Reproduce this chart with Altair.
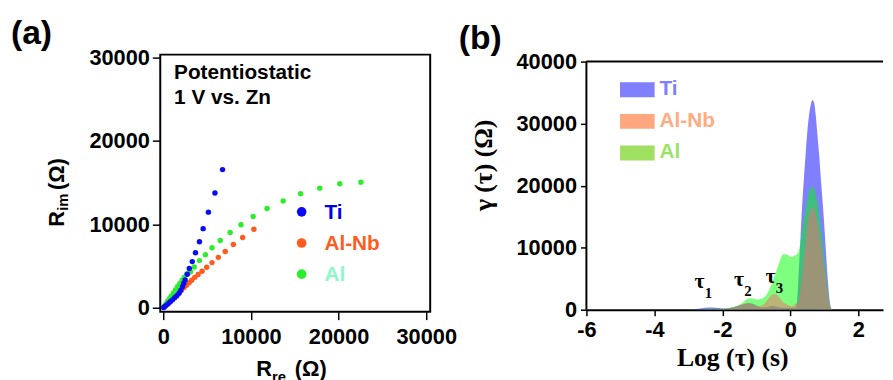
import altair as alt
import pandas as pd

# ---------------- Panel (a): Nyquist data ----------------
ti_re = [6764, 5900, 5150, 4550, 4130, 3680, 3310, 2970, 2740, 2500, 2350, 2200, 2000,
         1800, 1550, 1300, 1050, 800, 600, 400, 200, 50]
ti_im = [16570, 13760, 11470, 9490, 7910, 6600, 5540, 4710, 4030, 3350, 2950, 2550, 2100,
         1740, 1450, 1200, 950, 720, 530, 350, 170, 40]

alnb_re = [10340, 9060, 8000, 7070, 6280, 5560, 4960, 4430, 3980, 3600, 3250, 2950, 2650,
           2350, 2050, 1800, 1550, 1300, 1050, 850, 650, 450, 300, 150, 50]
alnb_im = [9410, 8420, 7590, 6760, 6050, 5420, 4860, 4390, 4000, 3650, 3300, 3000, 2700,
           2400, 2100, 1800, 1550, 1300, 1050, 850, 640, 450, 300, 150, 50]

al_re = [22550, 20140, 17850, 15670, 13680, 11840, 10260, 8870, 7630, 6500, 5560, 4810,
         4130, 3530, 3120, 2700, 2400, 2150, 1900, 1650, 1400, 1150, 900, 700, 500, 300, 150, 50]
al_im = [15070, 14870, 14350, 13680, 12810, 11900, 10950, 9960, 9020, 8070, 7200, 6370,
         5660, 4900, 4310, 4050, 3680, 3310, 2930, 2550, 2160, 1780, 1400, 1090, 780, 470, 230, 80]

series_names = ["Ti", "Al-Nb", "Al"]
a_ticks = [0, 10000, 20000, 30000]

# ---------------- Panel (b): DRT data ----------------
log_tau = [-6, -5, -4, -3.2, -3.0, -2.8, -2.6, -2.4, -2.2, -2.0, -1.8, -1.6, -1.5, -1.4, -1.3,
           -1.2, -1.1, -1.0, -0.9, -0.8, -0.7, -0.6, -0.5, -0.4, -0.3, -0.2, -0.1, 0.0, 0.05,
           0.1, 0.15, 0.2, 0.25, 0.3, 0.35, 0.4, 0.45, 0.5, 0.55, 0.6, 0.65, 0.7, 0.75, 0.8,
           0.85, 0.9, 0.95, 1.0, 1.05, 1.1, 1.15, 1.2, 1.25, 1.3, 2.0, 2.7]
g_ti = [0, 0, 0, 0, 30, 100, 250, 350, 300, 200, 250, 500, 680, 850, 1000,
        1050, 950, 700, 450, 350, 400, 550, 600, 500, 350, 300, 300, 350, 330,
        300, 300, 1500, 6400, 11700, 17000, 21200, 25000, 28700, 31300, 33000, 33800, 33300, 31200, 28000,
        24800, 21000, 17400, 13500, 9200, 5000, 1800, 200, 0, 0, 0, 0]
g_al = [0, 0, 0, 0, 0, 30, 80, 150, 150, 150, 300, 550, 800, 1150, 1600,
        1850, 1800, 1650, 1700, 1900, 2400, 3500, 4900, 6400, 8000, 9000, 8900, 8550, 8500,
        8650, 8800, 9000, 9500, 11000, 12800, 14600, 16300, 17800, 19000, 19700, 19800, 19400, 18600, 17200,
        15200, 13000, 10800, 8300, 5800, 3400, 1300, 200, 0, 0, 0, 0]
g_alnb = [0, 0, 0, 0, 0, 20, 50, 80, 80, 100, 250, 500, 700, 900, 1050,
          1050, 900, 700, 600, 800, 1400, 2100, 2550, 2450, 1800, 1150, 900, 650, 550,
          700, 1000, 1000, 1500, 3300, 5800, 8500, 11000, 13500, 15200, 16200, 16500, 16200, 15200, 13800,
          12200, 10500, 8800, 6900, 4800, 2700, 1000, 150, 0, 0, 0, 0]

tau_names = ["τ", "τ", "τ"]
tau_subs = ["1", "2", "3"]
tau_x = [-2.67, -1.51, -0.58]
tau_y = [3500, 3820, 4300]
b_yticks = list(range(0, 40001, 5000))
b_xticks = list(range(-6, 3))
B_XMIN, B_XMAX = -6, 2.727
B_YTOP = 40000

# ---------------- styling ----------------
SANS = "Liberation Sans"
SERIF = "Liberation Serif"
pt_colors = {"Ti": "#0a0af5", "Al-Nb": "#ff5b1f", "Al": "#2ced2c"}
leg_a_text = {"Ti": "#0000ee", "Al-Nb": "#ff5b1f", "Al": "#8cfac8"}
area_colors = {"Ti": "#0000ff", "Al-Nb": "#f86970", "Al": "#00ff00"}
swatch_colors = {"Ti": "#7f7fff", "Al-Nb": "#ffa880", "Al": "#a0e060"}
leg_b_text = {"Ti": "#8080ff", "Al-Nb": "#ffaa80", "Al": "#99e466"}

WA, HA = 273, 260
WB, HB = 300, 258       # panel b: 7 px head-room above the 40000 frame line
B_YDOM = [0, 40000 * HB / 251]
BT = 7                  # offset of the frame top inside panel b


def txt(s, x, y, size, color="black", font=SANS, align="left", angle=0, weight="bold"):
    kw = dict(font=font, fontSize=size, fontWeight=weight, color=color, align=align,
              baseline="alphabetic")
    if angle:
        kw["angle"] = angle
    return alt.Chart(pd.DataFrame({"t": [s]})).mark_text(**kw).encode(
        x=alt.value(x), y=alt.value(y), text="t:N")


# ---------------- build panel (a) ----------------
rows = []
for name, xs, ys in [("Al-Nb", alnb_re, alnb_im), ("Al", al_re, al_im), ("Ti", ti_re, ti_im)]:
    for xv, yv in zip(xs, ys):
        rows.append({"series": name, "re": xv, "im": yv})
df_a = pd.DataFrame(rows)

axis_a = dict(labelFont=SANS, labelFontSize=22, labelFontWeight="bold", labelColor="black",
              tickColor="black", tickWidth=1.5, tickSize=8, domain=False, grid=False,
              labelFlush=False, labelOverlap=False, format="d", title=None)

points = alt.Chart(df_a).mark_circle(size=30, opacity=1).encode(
    x=alt.X("re:Q", scale=alt.Scale(domain=[-340, 30450], nice=False, zero=False),
            axis=alt.Axis(values=a_ticks, labelPadding=7, **axis_a)),
    y=alt.Y("im:Q", scale=alt.Scale(domain=[-470, 30360], nice=False, zero=False),
            axis=alt.Axis(values=a_ticks, labelPadding=3, **axis_a)),
    color=alt.Color("series:N", scale=alt.Scale(domain=series_names,
                    range=[pt_colors[s] for s in series_names]), legend=None),
    order=alt.value(0),
)

layers_a = [points,
            txt("(a)", -151, -11, 34),
            txt("Potentiostatic", 14, 25, 21),
            txt("1 V vs. Zn", 14, 50, 21),
            # x title  R_re (Ω)
            txt("R", 97, 325, 22),
            txt("re", 113, 331, 15),
            txt("(Ω)", 136, 325, 22),
            # y title  R_im (Ω)
            txt("R", -97, 174, 22, angle=270),
            txt("im", -93, 158, 15, angle=270),
            txt("(Ω)", -97, 137, 22, angle=270)]

for i, name in enumerate(series_names):
    dot = alt.Chart(pd.DataFrame({"s": [name]})).mark_circle(
        size=95, opacity=1, color=pt_colors[name]).encode(
        x=alt.value(143), y=alt.value(159 + 31.5 * i))
    layers_a.append(dot)
    layers_a.append(txt(name, 166, 166 + 31.5 * i, 21, color=leg_a_text[name]))

panel_a = alt.layer(*layers_a).properties(
    width=WA, height=HA,
    view=alt.ViewBackground(stroke="black", strokeWidth=2, fill="white"))

# ---------------- build panel (b) ----------------
df_b = pd.DataFrame({"tau": log_tau, "Ti": g_ti, "Al-Nb": g_alnb, "Al": g_al})

xb = alt.X("tau:Q", scale=alt.Scale(domain=[B_XMIN, B_XMAX], nice=False, zero=False),
           axis=alt.Axis(values=b_xticks, title=None, labelFont=SANS, labelFontSize=22,
                         labelFontWeight="bold", labelColor="black", tickColor="black",
                         tickWidth=1.5, domainColor="black", domainWidth=2, grid=False,
                         labelFlush=False, labelOverlap=False, labelPadding=4,
                         labelExpr="datum.value % 2 == 0 ? '' + datum.value : ''",
                         tickSize={"condition": {"test": "datum.value % 2 == 0", "value": 6},
                                   "value": 3}))

yscale_b = alt.Scale(domain=B_YDOM, nice=False, zero=False)


def yb(field):
    return alt.Y(f"{field}:Q", stack=None, scale=yscale_b,
                 axis=alt.Axis(values=b_yticks, title=None, labelFont=SANS, labelFontSize=22,
                               labelFontWeight="bold", labelColor="black", tickColor="black",
                               tickWidth=1.5, domain=False, grid=False,
                               labelFlush=False, labelOverlap=False, labelPadding=4,
                               labelExpr="datum.value % 10000 == 0 ? '' + datum.value : ''",
                               tickSize={"condition": {"test": "datum.value % 10000 == 0",
                                                       "value": 6}, "value": 3}))


layers_b = []
for name in ["Ti", "Al", "Al-Nb"]:
    layers_b.append(alt.Chart(df_b).mark_area(
        interpolate="monotone", color=area_colors[name], opacity=0.5, clip=True).encode(
        x=xb, y=yb(name)))

df_tau = pd.DataFrame({"t": tau_names, "s": tau_subs, "x": tau_x, "y": tau_y})
layers_b.append(alt.Chart(df_tau).mark_text(
    font=SERIF, fontSize=22, fontWeight="bold", color="black", align="center",
    baseline="alphabetic").encode(x=alt.X("x:Q"), y=alt.Y("y:Q"), text="t:N"))
layers_b.append(alt.Chart(df_tau).mark_text(
    font=SERIF, fontSize=15, fontWeight="bold", color="black", align="center",
    baseline="alphabetic", dx=9, dy=10).encode(x=alt.X("x:Q"), y=alt.Y("y:Q"), text="s:N"))

frame_df = pd.DataFrame({"k": [0]})
# left frame line (0 .. 40000) and top frame line at 40000
layers_b.append(alt.Chart(frame_df).mark_rule(color="black", strokeWidth=2).encode(
    x=alt.datum(B_XMIN), y=alt.datum(0), y2=alt.datum(B_YTOP)))
layers_b.append(alt.Chart(frame_df).mark_rule(color="black", strokeWidth=2).encode(
    x=alt.datum(B_XMIN), x2=alt.datum(B_XMAX), y=alt.datum(B_YTOP)))

layers_b += [txt("(b)", -129, -6, 34),
             txt("γ (τ) (Ω)", -95, 105 + BT, 26, font=SERIF, align="center", angle=270),
             txt("Log (τ) (s)", 148, 308 + BT, 26, font=SERIF, align="center")]

for i, name in enumerate(series_names):
    sw = alt.Chart(pd.DataFrame({"s": [name]})).mark_rect(color=swatch_colors[name]).encode(
        x=alt.value(34), x2=alt.value(69),
        y=alt.value(21 + BT + 32 * i), y2=alt.value(36 + BT + 32 * i))
    layers_b.append(sw)
    layers_b.append(txt(name, 74, 34 + BT + 32 * i, 21, color=leg_b_text[name]))

panel_b = alt.layer(*layers_b).properties(
    width=WB, height=HB,
    view=alt.ViewBackground(stroke="transparent", fill="white"))

chart = alt.hconcat(panel_a, panel_b, spacing=0).properties(
    padding={"left": 2, "top": 6, "right": 0, "bottom": 0},
    background="white",
)

chart.save("out.html", embed_options={"renderer": "svg", "actions": False})
